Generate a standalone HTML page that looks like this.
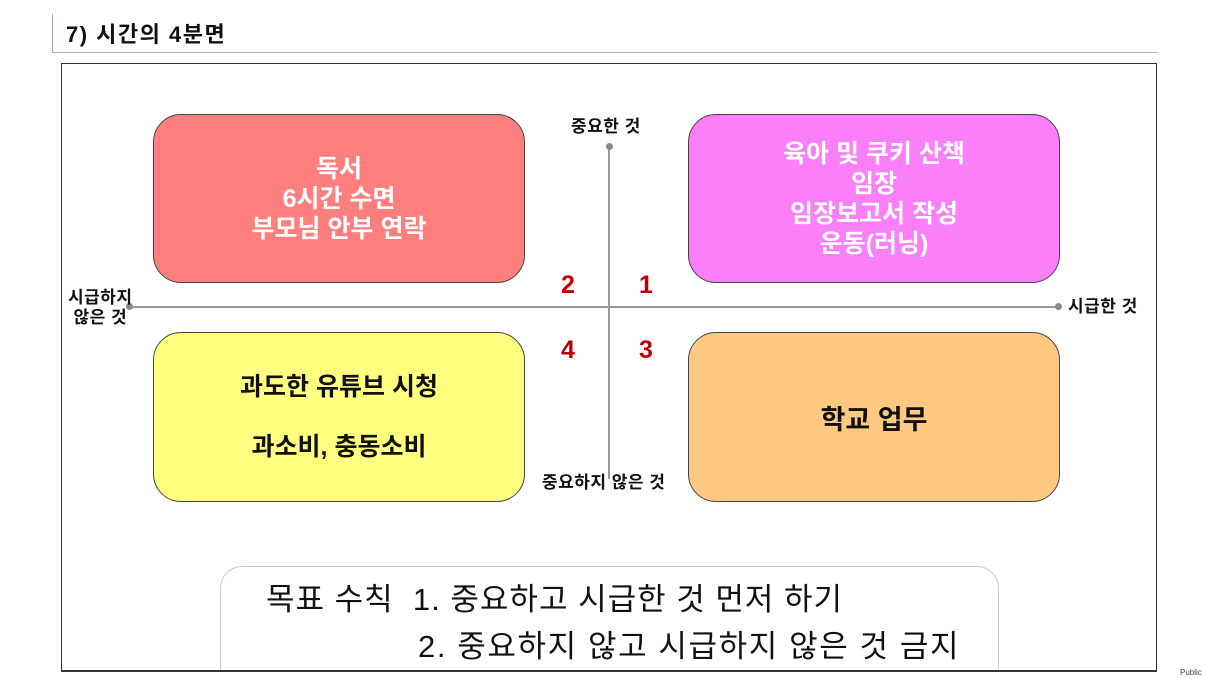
<!DOCTYPE html>
<html style="overflow:hidden"><head><meta charset="utf-8"><style>
html,body{margin:0;width:1216px;height:684px;overflow:hidden}
body{background:#fff;position:relative;font-family:"Liberation Sans","Noto Sans CJK KR",sans-serif}
.a{position:absolute}
.box{position:absolute;border:1px solid #444;border-radius:28px;display:flex;align-items:center;justify-content:center;text-align:center;font-weight:bold}
.lbl{position:absolute;font-size:17px;font-weight:bold;color:#111;line-height:20px;letter-spacing:0.5px}
.num{position:absolute;font-size:25px;font-weight:bold;color:#c00000}
.dot{position:absolute;width:7px;height:7px;border-radius:50%;background:#888}
</style></head><body>
<div class="a" style="left:52px;top:14px;width:1px;height:39px;background:#9fb0c8"></div>
<div class="a" style="left:52px;top:52px;width:1106px;height:1px;background:#9fb0c8"></div>
<div class="a" style="left:66px;top:17px;font-size:22px;font-weight:bold;color:#111;letter-spacing:1.5px">7) 시간의 4분면</div>
<div class="a" style="left:61px;top:63px;width:1094px;height:607px;border:1px solid #333"></div>

<div class="box" style="left:153px;top:114px;width:370px;height:167px;background:#ff7f7f;color:#fff;font-size:25px;line-height:30px">독서<br>6시간 수면<br>부모님 안부 연락</div>
<div class="box" style="left:688px;top:114px;width:370px;height:167px;background:#fb7ffb;color:#fff;font-size:25px;line-height:30px">육아 및 쿠키 산책<br>임장<br>임장보고서 작성<br>운동(러닝)</div>
<div class="box" style="left:153px;top:332px;width:370px;height:168px;background:#ffff7f;color:#111;font-size:25px;line-height:60px">과도한 유튜브 시청<br>과소비, 충동소비</div>
<div class="box" style="left:688px;top:332px;width:370px;height:168px;background:#ffc982;color:#111;font-size:27px">학교 업무</div>

<div class="a" style="left:608px;top:147px;width:2px;height:332px;background:#999"></div>
<div class="a" style="left:129px;top:306px;width:930px;height:2px;background:#999"></div>
<div class="dot" style="left:606px;top:143px"></div>
<div class="dot" style="left:126px;top:303px"></div>
<div class="dot" style="left:1055px;top:303px"></div>

<div class="lbl" style="left:571px;top:117px">중요한 것</div>
<div class="lbl" style="left:542px;top:473px">중요하지 않은 것</div>
<div class="lbl" style="left:68px;top:288px;text-align:center">시급하지<br>않은 것</div>
<div class="lbl" style="left:1068px;top:297px">시급한 것</div>

<div class="num" style="left:561px;top:271px">2</div>
<div class="num" style="left:639px;top:271px">1</div>
<div class="num" style="left:561px;top:336px">4</div>
<div class="num" style="left:639px;top:336px">3</div>

<div class="a" style="left:220px;top:566px;width:777px;height:104px;border:1px solid #ccc;border-bottom:none;border-radius:22px 22px 0 0;background:#fff"></div>
<div class="a" style="left:61px;top:670px;width:1096px;height:1px;background:#333"></div>
<div class="a" style="left:266px;top:574px;font-size:31px;color:#111;letter-spacing:1px">목표 수칙&nbsp; 1. 중요하고 시급한 것 먼저 하기</div>
<div class="a" style="left:418px;top:621px;font-size:31px;color:#111;letter-spacing:1.6px">2. 중요하지 않고 시급하지 않은 것 금지</div>
<div class="a" style="left:1180px;top:668px;font-size:8px;color:#444">Public</div>
</body></html>
